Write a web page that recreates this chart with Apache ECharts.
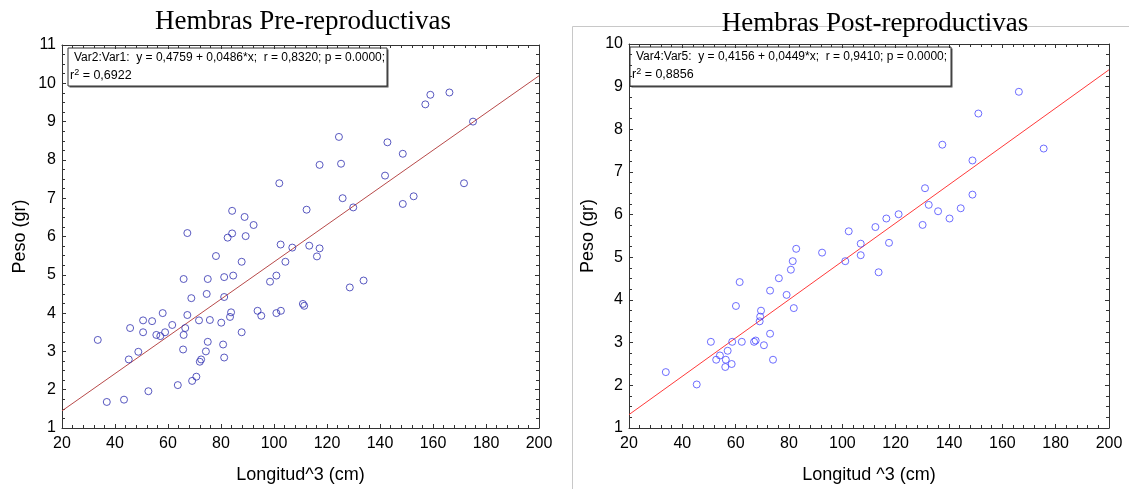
<!DOCTYPE html>
<html>
<head>
<meta charset="utf-8">
<title>Hembras Pre / Post-reproductivas</title>
<script src="https://cdn.jsdelivr.net/npm/echarts@6/dist/echarts.min.js"></script>
<style>
  html, body { margin: 0; padding: 0; background: #fff; }
  #chart { width: 1129px; height: 489px; }
</style>
</head>
<body>
<div id="chart"></div>
<script>
// Longitud^3 (cm), Peso (gr) - hembras pre-reproductivas
const prePoints = [
  [102.0, 7.39], [112.3, 6.70], [84.2, 6.67], [88.9, 6.51], [92.3, 6.30], [67.3, 6.09],
  [84.2, 6.08], [82.5, 5.97], [89.3, 6.01], [159.0, 9.70], [157.1, 9.45], [166.2, 9.76],
  [175.1, 9.00], [124.5, 8.60], [142.8, 8.46], [117.2, 7.87], [125.3, 7.90], [148.6, 8.16],
  [141.9, 7.59], [171.7, 7.39], [125.9, 7.00], [129.9, 6.76], [148.6, 6.85], [152.7, 7.05],
  [102.5, 5.79], [106.9, 5.71], [113.3, 5.76], [78.1, 5.49], [87.8, 5.34], [104.3, 5.34],
  [65.9, 4.89], [75.0, 4.89], [81.2, 4.94], [84.6, 4.98], [98.5, 4.82], [100.9, 4.98],
  [74.6, 4.50], [68.8, 4.39], [81.2, 4.42], [58.0, 4.00], [67.3, 3.95], [83.8, 4.02],
  [83.4, 3.90], [93.8, 4.06], [95.2, 3.93], [100.9, 4.00], [102.6, 4.06], [110.9, 4.24],
  [111.4, 4.19], [50.6, 3.81], [54.0, 3.79], [45.7, 3.61], [50.6, 3.50], [55.6, 3.43],
  [57.1, 3.40], [58.9, 3.50], [61.6, 3.69], [66.5, 3.61], [65.9, 3.43], [71.7, 3.81],
  [75.8, 3.82], [80.1, 3.75], [87.8, 3.50], [33.5, 3.30], [75.0, 3.25], [80.8, 3.18],
  [65.7, 3.05], [74.3, 3.00], [48.8, 2.99], [45.2, 2.79], [81.2, 2.84], [72.5, 2.79],
  [72.0, 2.73], [70.7, 2.34], [69.1, 2.23], [63.7, 2.12], [52.6, 1.96], [36.9, 1.68],
  [43.4, 1.74], [117.2, 5.69], [116.2, 5.48], [128.6, 4.67], [133.8, 4.85]
]
// hembras post-reproductivas
const postPoints = [
  [102.4, 5.61], [112.4, 5.71], [166.2, 8.88], [151.0, 8.37], [137.5, 7.64], [175.5, 7.55],
  [148.8, 7.27], [131.0, 6.62], [148.8, 6.47], [132.4, 6.23], [135.9, 6.08], [144.4, 6.15],
  [121.1, 6.01], [116.5, 5.91], [140.2, 5.91], [130.1, 5.76], [106.9, 5.32], [106.9, 5.05],
  [101.1, 4.91], [113.6, 4.65], [92.4, 5.11], [82.7, 5.20], [81.4, 4.91], [80.7, 4.71],
  [76.2, 4.51], [61.5, 4.42], [72.9, 4.22], [79.1, 4.12], [81.8, 3.81], [60.1, 3.86],
  [69.5, 3.75], [69.2, 3.61], [69.0, 3.50], [72.9, 3.21], [50.7, 3.02], [58.7, 3.02],
  [62.3, 3.02], [66.9, 3.02], [67.5, 3.05], [70.6, 2.94], [57.0, 2.81], [54.1, 2.70],
  [52.7, 2.60], [56.3, 2.60], [58.5, 2.50], [56.1, 2.43], [74.0, 2.60], [33.8, 2.31],
  [45.4, 2.02], [117.5, 5.34]
]
// fitted lines (ends at x = 20 and x = 200)
const preFit = [[20, 1.448], [200, 10.196]]
const postFit = [[20, 1.314], [200, 9.396]]

const preLegend = ['Var2:Var1:  y = 0,4759 + 0,0486*x;  r = 0,8320; p = 0.0000;', 'r{sup|2} = 0,6922']
const postLegend = ['Var4:Var5:  y = 0,4156 + 0,0449*x;  r = 0,9410; p = 0.0000;', 'r{sup|2} = 0,8856']

const sans = 'Liberation Sans, Arial, sans-serif'
const serif = 'Liberation Serif, Times New Roman, serif'
const frame = '#333'

function xAxes(gridIndex, name) {
  const base = {
    gridIndex: gridIndex,
    type: 'value',
    min: 20,
    max: 200,
    interval: 20,
    splitLine: { show: false },
    axisLine: { show: true, onZero: false, lineStyle: { color: frame } },
    axisTick: { show: true, inside: true, length: 4, lineStyle: { color: frame } },
    minorTick: { show: true, splitNumber: 5, length: 3, lineStyle: { color: frame } }
  }
  return [
    Object.assign({}, base, {
      position: 'bottom',
      name: name,
      nameLocation: 'middle',
      nameGap: 38,
      nameTextStyle: { fontFamily: sans, fontSize: 18, color: '#000' },
      axisLabel: { fontFamily: sans, fontSize: 16, color: '#000', margin: 8 }
    }),
    Object.assign({}, base, { position: 'top', axisLabel: { show: false } })
  ]
}

function yAxes(gridIndex, max, gap) {
  const base = {
    gridIndex: gridIndex,
    type: 'value',
    min: 1,
    max: max,
    interval: 1,
    splitLine: { show: false },
    axisLine: { show: true, onZero: false, lineStyle: { color: frame } },
    axisTick: { show: true, inside: true, length: 4, lineStyle: { color: frame } },
    minorTick: { show: true, splitNumber: 4, length: 3, lineStyle: { color: frame } }
  }
  return [
    Object.assign({}, base, {
      position: 'left',
      name: 'Peso (gr)',
      nameLocation: 'middle',
      nameGap: gap,
      nameTextStyle: { fontFamily: sans, fontSize: 18, color: '#000' },
      axisLabel: { fontFamily: sans, fontSize: 16, color: '#000', margin: 6 }
    }),
    Object.assign({}, base, { position: 'right', axisLabel: { show: false } })
  ]
}

function legendBox(x, y, w, h, lines) {
  return {
    type: 'group',
    children: [
      { type: 'rect', shape: { x: x + 1.5, y: y + 1.5, width: w, height: h }, style: { fill: '#555' } },
      { type: 'rect', shape: { x: x, y: y, width: w, height: h }, style: { fill: '#fff', stroke: frame, lineWidth: 1 } },
      {
        type: 'text', x: x + 6, y: y + 4,
        style: { text: lines[0], font: '12px ' + sans, fill: '#000' }
      },
      {
        type: 'text', x: x + 2, y: y + 20,
        style: {
          text: lines[1], font: '12.5px ' + sans, fill: '#000',
          rich: { sup: { fontSize: 9, verticalAlign: 'top', padding: [0, 0, 6, 0], fontFamily: sans } }
        }
      }
    ]
  }
}

const chart = echarts.init(document.getElementById('chart'))
const option = {
  animation: false,
  backgroundColor: '#fff',
  title: [
    {
      text: 'Hembras Pre-reproductivas', left: 298, top: 3, textAlign: 'center',
      textStyle: { fontFamily: serif, fontSize: 27, fontWeight: 'normal', color: '#000' }
    },
    {
      text: 'Hembras Post-reproductivas', left: 870, top: 5, textAlign: 'center',
      textStyle: { fontFamily: serif, fontSize: 27, fontWeight: 'normal', color: '#000' }
    }
  ],
  grid: [
    { left: 62, top: 45, width: 477, height: 385 },
    { left: 629, top: 44, width: 480, height: 387 }
  ],
  xAxis: xAxes(0, 'Longitud^3 (cm)').concat(xAxes(1, 'Longitud ^3 (cm)')),
  yAxis: yAxes(0, 11, 33).concat(yAxes(1, 10, 32)),
  graphic: [
    {
      type: 'polyline', silent: true,
      shape: { points: [[572.5, 489], [572.5, 26.5], [1129, 26.5]] },
      style: { stroke: '#c8c8c8', lineWidth: 1, fill: null }
    },
    legendBox(68, 48, 319, 38, preLegend),
    legendBox(630, 47, 321, 39, postLegend)
  ],
  series: [
    {
      type: 'scatter', xAxisIndex: 0, yAxisIndex: 0, data: prePoints,
      symbol: 'circle', symbolSize: 7,
      itemStyle: { color: 'rgba(0,0,0,0)', borderColor: '#3030b0', borderWidth: 1 }
    },
    {
      type: 'line', xAxisIndex: 0, yAxisIndex: 0, data: preFit,
      showSymbol: false, lineStyle: { color: '#b84a4a', width: 1 }, z: 1
    },
    {
      type: 'scatter', xAxisIndex: 2, yAxisIndex: 2, data: postPoints,
      symbol: 'circle', symbolSize: 7,
      itemStyle: { color: 'rgba(0,0,0,0)', borderColor: '#4a4aff', borderWidth: 1 }
    },
    {
      type: 'line', xAxisIndex: 2, yAxisIndex: 2, data: postFit,
      showSymbol: false, lineStyle: { color: '#ff3a3a', width: 1 }, z: 1
    }
  ]
}
chart.setOption(option)
</script>
</body>
</html>
